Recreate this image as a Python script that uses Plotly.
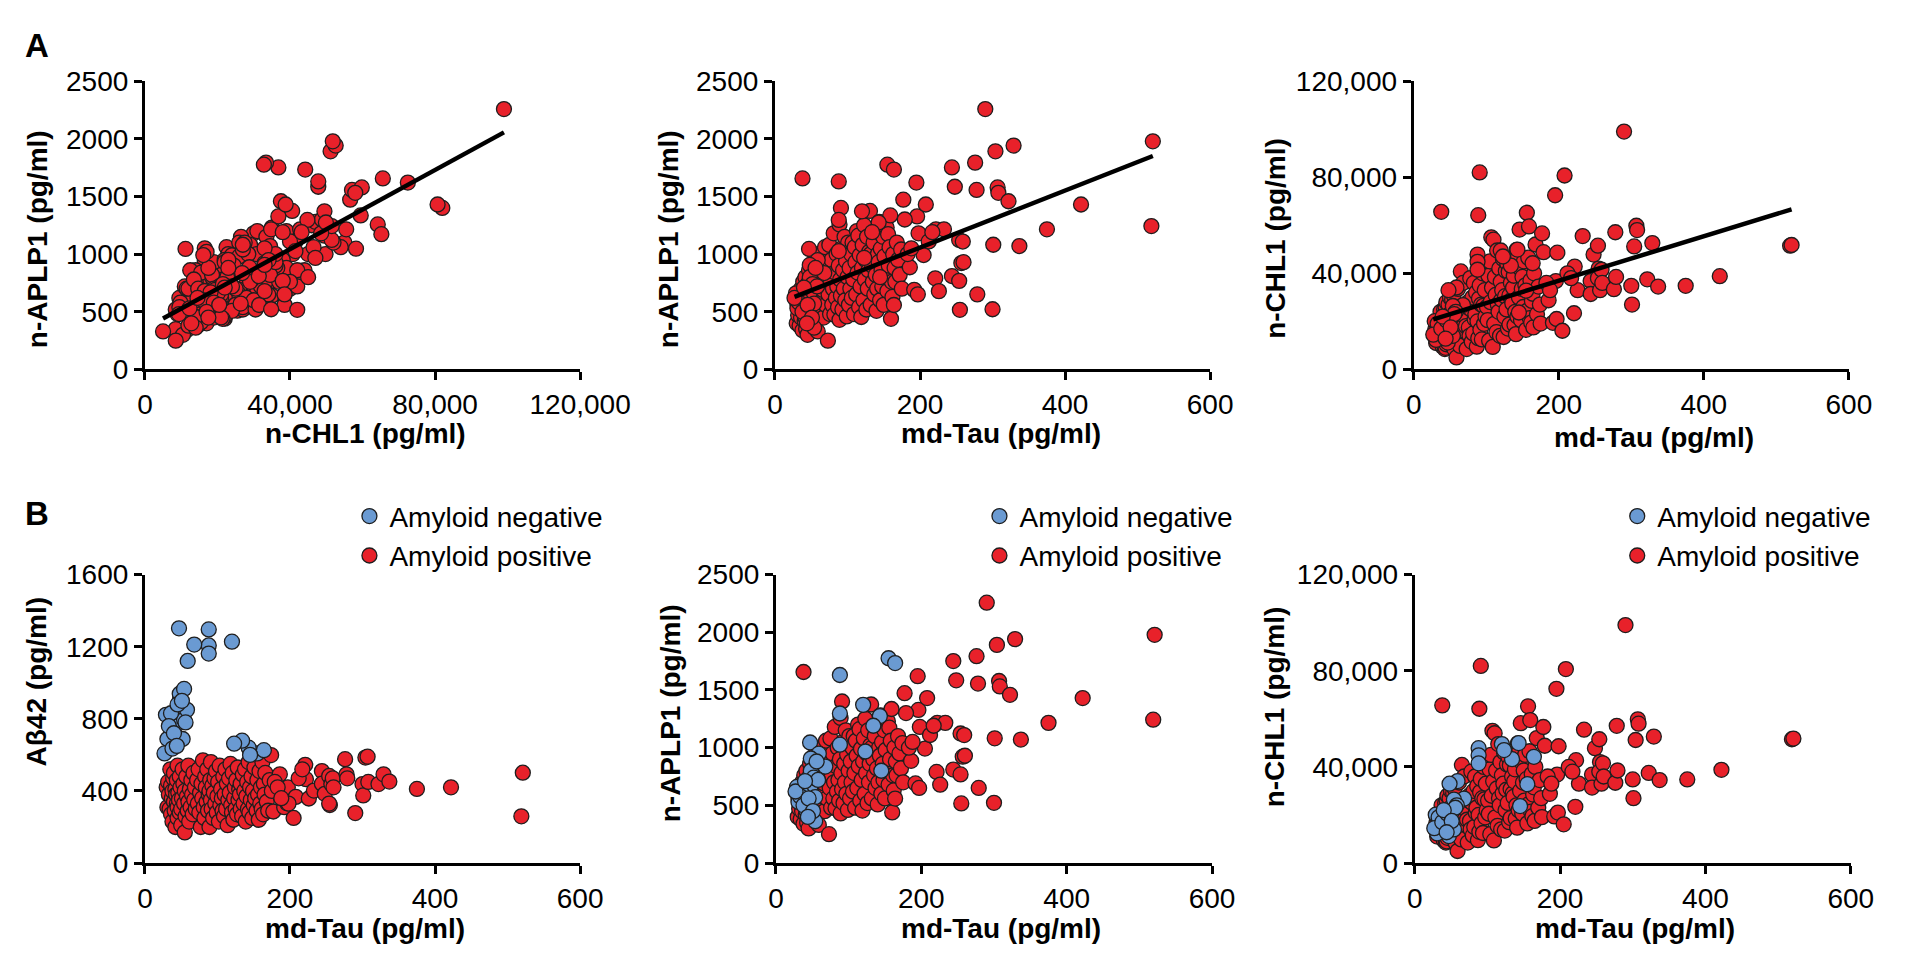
import numpy as np
import plotly.graph_objects as go

# ---------------- data ----------------
# Amyloid-positive subjects: md-Tau, n-APLP1, n-CHL1, Abeta42 (all pg/ml)
pos_tau = [
    30, 31, 32, 33, 34, 35, 36, 36, 37, 38, 38, 39, 40, 40, 41, 42, 42, 43, 44, 44, 45, 45, 45,
    46, 47, 48, 48, 49, 50, 50, 51, 52, 53, 54, 55, 55, 56, 57, 58, 59, 60, 60, 61, 62, 63, 64, 65, 66, 67, 68, 69, 70,
    72, 73, 74, 75, 76, 77, 78, 79, 80, 81, 82, 83, 84, 85, 86, 87, 88, 89, 89, 90, 91, 91, 92, 93, 94, 95, 96, 97, 98, 99, 100,
    101, 102, 103, 104, 105, 106, 107, 108, 109, 110, 111, 112, 113, 114, 115, 116, 117, 118, 119, 120, 121, 122, 123, 124, 125, 126, 127, 128, 129, 130,
    131, 132, 132, 134, 135, 136, 137, 138, 139, 140, 141, 142, 143, 144, 145, 146, 147, 148, 149, 150,
    151, 152, 154, 155, 156, 157, 158, 159, 160, 161, 162, 163, 164, 165, 166, 168, 170, 172, 174, 175,
    177, 186, 192, 195, 196, 197, 208, 205, 221, 222, 226, 233, 244, 244, 248, 255, 254, 257, 254, 259,
    260, 276, 278, 279, 290, 300, 301, 304, 307, 308, 322, 329, 337, 375, 422, 519, 521, 179, 198, 183,
    188, 212, 217,
]
pos_aplp1 = [
    400, 560, 470, 640, 380, 520, 700, 450, 600, 1656, 340, 760, 500, 620, 420, 800, 560, 350, 680, 480, 590, 740, 300,
    520, 860, 640, 410, 720, 560, 900, 470, 780, 600, 380, 680, 1000, 520, 830, 440, 330, 620, 940, 720, 510, 860, 580, 1000, 690, 450, 790, 1060, 560,
    880, 250, 650, 1080, 480, 760, 950, 560, 700, 1180, 475, 840, 620, 1000, 720, 540, 900, 1257, 430, 780, 1400, 640, 1050, 520, 860, 700, 1150, 600, 940, 460, 800,
    1100, 560, 880, 700, 1000, 620, 1100, 780, 480, 1060, 930, 650, 1200, 840, 1160, 540, 990, 720, 455, 880, 1080, 600, 1250, 780, 950, 520, 1150, 700, 860, 1020,
    1374, 1000, 560, 900, 760, 1100, 650, 1200, 820, 508, 700, 1000, 930, 1280, 600, 1047, 860, 720, 1150, 560,
    980, 800, 1230, 680, 1173, 900, 1060, 1335, 439, 760, 629, 1000, 559, 880, 760, 1100, 950, 820, 1040, 700,
    1472, 886, 690, 1620, 1327, 651, 1430, 992, 790, 1215, 679, 1215, 1751, 810, 1584, 517, 1123, 922, 768, 1109,
    930, 1793, 1556, 651, 2257, 522, 1081, 1891, 1578, 1531, 1458, 1941, 1070, 1215, 1430, 1243, 1978, 1300, 1180, 1000,
    1050, 1110, 1190,
]
pos_chl1 = [
    17000, 11000, 19000, 13000, 14500, 21000, 12000, 16000, 24000, 65600, 11500, 15000, 20000, 9500, 13000, 18500, 25000, 8500, 26000, 9000, 14000, 28000, 10500,
    21000, 17000, 27000, 15500, 11000, 30000, 20000, 18000, 13500, 29000, 12000, 31000, 24000, 8500, 19500, 22000, 5000, 12500, 16500, 33500, 25500, 14000, 9800, 40800, 26000, 19000, 36000, 22500, 16000,
    18000, 8500, 26000, 28000, 17500, 14000, 38000, 25000, 11500, 30000, 15000, 36000, 21000, 23000, 32000, 9500, 20000, 64200, 13000, 29500, 82000, 35000, 16500, 27000, 12500, 40000, 26500, 19000, 33000, 22000, 42000,
    26000, 20500, 39000, 12000, 45000, 28000, 55000, 34000, 9400, 54000, 19000, 38500, 31000, 15500, 49500, 27000, 24000, 42000, 14000, 36500, 29000, 33000, 46000, 13500, 22000, 30500, 41000, 25000, 44000, 17000,
    40600, 30800, 18700, 36000, 29000, 27500, 34000, 39000, 18500, 24000, 14700, 49800, 22000, 47000, 30000, 58200, 42000, 20500, 33500, 38500,
    26000, 45000, 35000, 16500, 65200, 24500, 46500, 59500, 21400, 37000, 19500, 28500, 31500, 17500, 40000, 52000, 23000, 34500, 27000, 19100,
    56600, 28800, 19400, 72500, 36800, 21000, 80700, 16100, 23400, 42800, 33000, 55500, 36800, 31400, 47800, 42000, 51500, 33000, 38000, 41500,
    36000, 33400, 57100, 38500, 99000, 34800, 27000, 51200, 59800, 58000, 37500, 52600, 34500, 34800, 38800, 51500, 51800, 48800, 48600, 36000,
    33000, 40000, 38000,
]
pos_ab42 = [
    420, 310, 450, 380, 300, 520, 430, 270, 360, 400, 230, 470, 340, 500, 290, 410, 200, 380, 330, 460, 250, 540, 310,
    390, 350, 280, 480, 420, 210, 300, 360, 520, 440, 330, 170, 400, 260, 480, 370, 290, 540, 340, 230, 410, 310, 460, 380, 270, 500, 350, 420, 300,
    460, 330, 520, 280, 390, 200, 440, 360, 570, 310, 250, 480, 420, 340, 520, 290, 380, 400, 200, 460, 350, 560, 300, 430, 250, 390, 470, 330, 510, 280, 370,
    450, 230, 540, 320, 410, 360, 290, 480, 260, 380, 520, 300, 440, 210, 350, 470, 390, 550, 320, 280, 500, 240, 360, 420, 300, 460, 270, 530, 350, 410,
    380, 300, 440, 260, 490, 330, 400, 520, 230, 370, 450, 300, 560, 280, 420, 350, 480, 250, 400, 320,
    530, 360, 290, 460, 380, 240, 510, 330, 420, 300, 560, 270, 440, 380, 500, 340, 290, 460, 599, 400,
    286, 492, 310, 393, 331, 420, 367, 250, 545, 465, 358, 402, 510, 440, 384, 322, 483, 438, 330, 470,
    420, 576, 492, 470, 277, 438, 375, 585, 590, 450, 438, 492, 452, 411, 420, 259, 501, 450, 330, 420,
    360, 470, 520,
]

# Amyloid-negative subjects
neg_tau = [88, 155, 164, 120, 88, 143, 134, 123, 145, 88, 47, 68, 59, 48, 48, 29, 48, 31, 54, 42,
           54, 36, 33, 27, 38, 52, 58, 45, 56, 40, 51, 44]
neg_aplp1 = [1630, 1775, 1733, 1371, 1296, 1274, 1190, 967, 800, 1026, 1045, 836, 948, 906, 800, 660, 669, 530, 571, 451,
             362, 600, 580, 620, 500, 740, 720, 560, 880, 710, 450, 400]
neg_chl1 = [47800, 32800, 44200, 49500, 44800, 49900, 43200, 47000, 23700, 41500, 11200, 26800, 34100, 33000, 22700, 20100, 18100, 12300, 26400, 21000,
            14000, 16000, 19000, 14500, 17000, 21500, 24000, 20500, 23000, 22000, 17500, 12800]
neg_ab42 = [1296, 608, 626, 1228, 1207, 640, 679, 662, 600, 1162, 1302, 1212, 1121, 903, 939, 822, 849, 688, 966, 760,
            796, 831, 760, 608, 635, 688, 850, 880, 780, 720, 900, 650]

group_names = ["Amyloid negative", "Amyloid positive"]

# ---------------- styling ----------------
W, H = 1920, 962
FONT = "Liberation Sans, Arial, Helvetica, sans-serif"
RED = "#E8212A"
BLUE = "#6A9AD2"
EDGE = "#1E1E1E"
MSIZE = 15


def xdom(a, b):
    return [a / W, b / W]


def ydom(top, bottom):
    return [1 - bottom / H, 1 - top / H]


all_tau = pos_tau + neg_tau
all_aplp1 = pos_aplp1 + neg_aplp1
all_chl1 = pos_chl1 + neg_chl1

fig = go.Figure()


def marker(color):
    return dict(color=color, size=MSIZE, line=dict(color=EDGE, width=1.3))


def add_points(x, y, k, color, name=None, legend=None, show=False, rank=None):
    fig.add_trace(go.Scatter(
        x=x, y=y, mode="markers", marker=marker(color), cliponaxis=False,
        xaxis="x" if k == 1 else f"x{k}", yaxis="y" if k == 1 else f"y{k}",
        name=name, showlegend=show, legend=legend, legendrank=rank,
        hoverinfo="x+y",
    ))


def add_fit(x, y, k):
    xa = np.asarray(x, float)
    ya = np.asarray(y, float)
    slope, icpt = np.polyfit(xa, ya, 1)
    xs = np.array([xa.min(), xa.max()])
    fig.add_trace(go.Scatter(
        x=xs, y=slope * xs + icpt, mode="lines", line=dict(color="black", width=4.5),
        xaxis="x" if k == 1 else f"x{k}", yaxis="y" if k == 1 else f"y{k}",
        showlegend=False, hoverinfo="skip", cliponaxis=False,
    ))


# Panel A (all subjects, red, with regression line)
add_points(all_chl1, all_aplp1, 1, RED)
add_fit(all_chl1, all_aplp1, 1)
add_points(all_tau, all_aplp1, 2, RED)
add_fit(all_tau, all_aplp1, 2)
add_points(all_tau, all_chl1, 3, RED)
add_fit(all_tau, all_chl1, 3)

# Panel B (coloured by amyloid status)
for k, ypos, yneg, leg in [(4, pos_ab42, neg_ab42, "legend"),
                           (5, pos_aplp1, neg_aplp1, "legend2"),
                           (6, pos_chl1, neg_chl1, "legend3")]:
    add_points(pos_tau, ypos, k, RED, group_names[1], leg, True, 2)
    add_points(neg_tau, yneg, k, BLUE, group_names[0], leg, True, 1)

# ---------------- axes ----------------
axis_common = dict(
    showline=True, linecolor="black", linewidth=3, mirror=False,
    ticks="outside", ticklen=8, tickwidth=3, tickcolor="black",
    showgrid=False, zeroline=False,
    tickfont=dict(family=FONT, size=28, color="black"),
    fixedrange=True,
)

specs = {
    1: dict(xd=(133, 582), yd=(60, 358), xr=120000, xdt=40000, xf=",d", yr=2500, ydt=500, yf="d"),
    2: dict(xd=(783, 1232), yd=(60, 358), xr=600, xdt=200, xf="d", yr=2500, ydt=500, yf="d"),
    3: dict(xd=(1442, 1891), yd=(60, 358), xr=600, xdt=200, xf="d", yr=120000, ydt=40000, yf=",d"),
    4: dict(xd=(133, 582), yd=(570, 868), xr=600, xdt=200, xf="d", yr=1600, ydt=400, yf="d"),
    5: dict(xd=(784, 1234), yd=(570, 868), xr=600, xdt=200, xf="d", yr=2500, ydt=500, yf="d"),
    6: dict(xd=(1443, 1893), yd=(570, 868), xr=600, xdt=200, xf="d", yr=120000, ydt=40000, yf=",d"),
}

layout_axes = {}
for k, s in specs.items():
    sx = "" if k == 1 else str(k)
    layout_axes[f"xaxis{sx}"] = dict(axis_common, domain=xdom(*s["xd"]), range=[0, s["xr"]],
                                     dtick=s["xdt"], tick0=0, tickformat=s["xf"],
                                     anchor=f"y{sx}")
    layout_axes[f"yaxis{sx}"] = dict(axis_common, domain=ydom(*s["yd"]), range=[0, s["yr"]],
                                     dtick=s["ydt"], tick0=0, tickformat=s["yf"],
                                     anchor=f"x{sx}")
fig.update_layout(**layout_axes)

# ---------------- axis titles & panel letters ----------------
ann = []


def title(text, xpx, ypx, rot=0):
    ann.append(dict(text=text, x=xpx / W, y=1 - ypx / H, xref="paper", yref="paper",
                    xanchor="center", yanchor="middle", showarrow=False, textangle=rot,
                    font=dict(family=FONT, size=28, color="black", weight="bold")))


title("n-CHL1 (pg/ml)", 361, 424)
title("md-Tau (pg/ml)", 1016, 424)
title("md-Tau (pg/ml)", 1690, 428)
title("md-Tau (pg/ml)", 360, 936)
title("md-Tau (pg/ml)", 1016, 936)
title("md-Tau (pg/ml)", 1670, 936)
title("n-APLP1 (pg/ml)", 22, 223, -90)
title("n-APLP1 (pg/ml)", 673, 223, -90)
title("n-CHL1 (pg/ml)", 1300, 223, -90)
title("Aβ42 (pg/ml)", 21, 680, -90)
title("n-APLP1 (pg/ml)", 675, 713, -90)
title("n-CHL1 (pg/ml)", 1298, 707, -90)

for letter, ypx in [("A", 23), ("B", 507)]:
    ann.append(dict(text=letter, x=7 / W, y=1 - ypx / H, xref="paper", yref="paper",
                    xanchor="left", yanchor="middle", showarrow=False,
                    font=dict(family=FONT, size=33, color="black", weight="bold")))

legend_common = dict(
    xanchor="left", yanchor="top", bgcolor="rgba(0,0,0,0)", borderwidth=0,
    font=dict(family=FONT, size=28, color="black"), itemwidth=30,
    tracegroupgap=0, itemclick=False, itemdoubleclick=False,
)

fig.update_layout(
    width=W, height=H, margin=dict(l=0, r=0, t=0, b=0),
    paper_bgcolor="white", plot_bgcolor="white",
    annotations=ann,
    legend=dict(legend_common, x=344 / W, y=1 - 484 / H),
    legend2=dict(legend_common, x=994 / W, y=1 - 484 / H),
    legend3=dict(legend_common, x=1652 / W, y=1 - 484 / H),
    hovermode="closest",
)

fig.write_html("out.html", config={"displayModeBar": False})
